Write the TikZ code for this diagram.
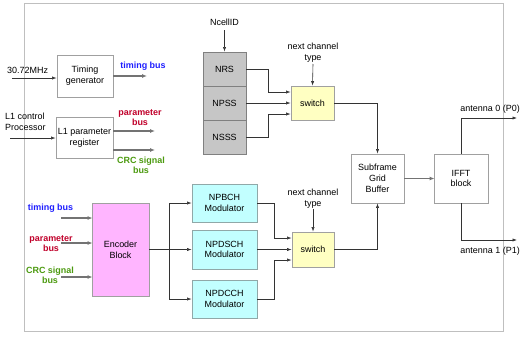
\documentclass[tikz,border=0pt]{standalone}
\usepackage{fontspec}
\setmainfont{Liberation Sans}
\usetikzlibrary{arrows.meta}
\definecolor{boxline}{HTML}{A0A0A0}
\definecolor{stackfill}{HTML}{C6C6C6}
\definecolor{stackline}{HTML}{808080}
\definecolor{swfill}{HTML}{FFFFC2}
\definecolor{modfill}{HTML}{C2FFFF}
\definecolor{modline}{HTML}{90A8A8}
\definecolor{encfill}{HTML}{FFB5FF}
\definecolor{tbus}{HTML}{1E1EFF}
\definecolor{pbus}{HTML}{C0002A}
\definecolor{cbus}{HTML}{4C9A10}
\begin{document}
\begin{tikzpicture}[x=1bp,y=-1bp,
  font=\fontsize{9}{10.8}\selectfont,
  blk/.style={draw=boxline,line width=0.8bp,fill=white,align=center,inner sep=0pt},
  stk/.style={draw=stackline,line width=0.8bp,fill=stackfill,minimum width=43bp,minimum height=34bp,inner sep=0pt},
  sw/.style={draw=boxline,line width=0.8bp,fill=swfill,inner sep=0pt},
  modb/.style={draw=modline,line width=0.8bp,fill=modfill,align=center,minimum width=65bp,inner sep=0pt},
  conn/.style={draw=black!80,line width=0.6bp,-{Latex[length=4.5bp,width=3.2bp]}},
  bus/.style={draw=black!55,line width=1.6bp,-{Latex[length=5bp,width=4bp]},shorten >=-1bp},
  lbl/.style={align=center,inner sep=0pt},
  blbl/.style={align=center,inner sep=0pt,font=\fontsize{9}{10.5}\selectfont\bfseries}
]
\useasboundingbox (0,0) rectangle (521,337);
% outer frame
\draw[draw=black!25,line width=0.8bp] (24.5,3.5) rectangle (503.5,331.5);

% top-left
\node[blk,minimum width=56bp,minimum height=42bp] (tg) at (85,76) {Timing\\generator};
\node[lbl,anchor=base west] (clk) at (7,73) {30.72MHz};
\coordinate (clkin) at (12,78);
\draw[conn] (clkin) -- (tg.west |- clkin);
\coordinate (tbend) at (146,76);
\draw[bus] (tg.east |- tbend) -- (tbend);
\node[blbl,text=tbus] (tbl) at (143,66) {timing bus};

\node[blk,minimum width=57bp,minimum height=41bp] (l1) at (84.5,138) {L1 parameter\\register};
\node[lbl,align=left,anchor=north west] (l1c) at (5,113) {L1 control\\Processor};
\coordinate (l1in) at (10,138);
\draw[conn] (l1in) -- (l1.west |- l1in);
\coordinate (pbend) at (154,131);
\coordinate (cbend) at (154,150);
\draw[bus] (l1.east |- pbend) -- (pbend);
\draw[bus] (l1.east |- cbend) -- (cbend);
\node[blbl,text=pbus] (pbl) at (140,117.5) {parameter\\bus};
\node[blbl,text=cbus] (cbl) at (141,165.5) {CRC signal\\bus};

% gray stack
\node[stk] (nrs) at (224.5,69) {NRS};
\node[stk] (npss) at (224.5,103) {NPSS};
\node[stk] (nsss) at (224.5,137) {NSSS};
\node[lbl] (ncid) at (224.5,22) {NcellID};
\coordinate (ncidb) at (224.5,30);
\draw[conn] (ncidb) -- (nrs.north);

% top switch
\node[sw,minimum width=43bp,minimum height=34bp] (sw1) at (312.5,103) {switch};
\node[lbl] (nct1) at (313,53) {next channel\\type};
\coordinate (nct1b) at (313,64);
\draw[conn] (nct1b) -- (sw1.north);
\draw[conn] (nrs.east) -- (268,69) -- (268,92) -- (sw1.west |- 0,92);
\draw[conn] (npss.east) -- (sw1.west);
\draw[conn] (nsss.east) -- (268,137) -- (268,114) -- (sw1.west |- 0,114);

% subframe and IFFT
\node[blk,minimum width=53bp,minimum height=49bp] (sgb) at (377.5,178.5) {Subframe\\Grid\\Buffer};
\node[blk,minimum width=54bp,minimum height=49bp] (ifft) at (461,178.5) {IFFT\\block};
\draw[conn] (sw1.east) -| (sgb.north);
\draw[bus,line width=1.3bp] (sgb.east) -- (ifft.west);

\coordinate (a0) at (517,118);
\coordinate (a1) at (517,240);
\draw[conn] (ifft.north) |- (a0);
\draw[conn] (ifft.south) |- (a1);
\node[lbl,anchor=base east] (a0l) at (520,111) {antenna 0 (P0)};
\node[lbl,anchor=base east] (a1l) at (520,253) {antenna 1 (P1)};

% encoder
\node[blk,draw=boxline,fill=encfill,minimum width=57bp,minimum height=93bp] (enc) at (120.5,249.5) {Encoder\\Block};
\node[blbl,text=tbus] (tbl2) at (50.5,208) {timing bus};
\node[blbl,text=pbus] (pbl2) at (51,243.5) {parameter\\bus};
\node[blbl,text=cbus] (cbl2) at (50,275.5) {CRC signal\\bus};
\coordinate (et) at (61,218);
\coordinate (ep) at (61,243);
\coordinate (ec) at (61,277);
\draw[bus] (et) -- (enc.west |- et);
\draw[bus] (ep) -- (enc.west |- ep);
\draw[bus] (ec) -- (enc.west |- ec);

% modulators
\node[modb,minimum height=38bp] (m1) at (224.5,203) {NPBCH\\Modulator};
\node[modb,minimum height=39bp] (m2) at (224.5,249.5) {NPDSCH\\Modulator};
\node[modb,minimum height=38bp] (m3) at (224.5,299) {NPDCCH\\Modulator};
\coordinate (fan) at (169,249.5);
\draw[line width=0.6bp,draw=black!80] (enc.east) -- (fan);
\draw[conn] (fan) |- (m1.west);
\draw[conn] (fan) -- (m2.west);
\draw[conn] (fan) |- (m3.west);

% bottom switch
\node[sw,minimum width=42bp,minimum height=35bp] (sw2) at (313,249.5) {switch};
\node[lbl] (nct2) at (313,198.5) {next channel\\type};
\coordinate (nct2b) at (313,209);
\draw[conn] (nct2b) -- (sw2.north);
\draw[conn] (m1.east) -- (274,203) -- (274,238) -- (sw2.west |- 0,238);
\draw[conn] (m2.east) -- (sw2.west);
\draw[conn] (m3.east) -- (274,299) -- (274,260) -- (sw2.west |- 0,260);
\draw[conn] (sw2.east) -| (sgb.south);
\end{tikzpicture}
\end{document}
